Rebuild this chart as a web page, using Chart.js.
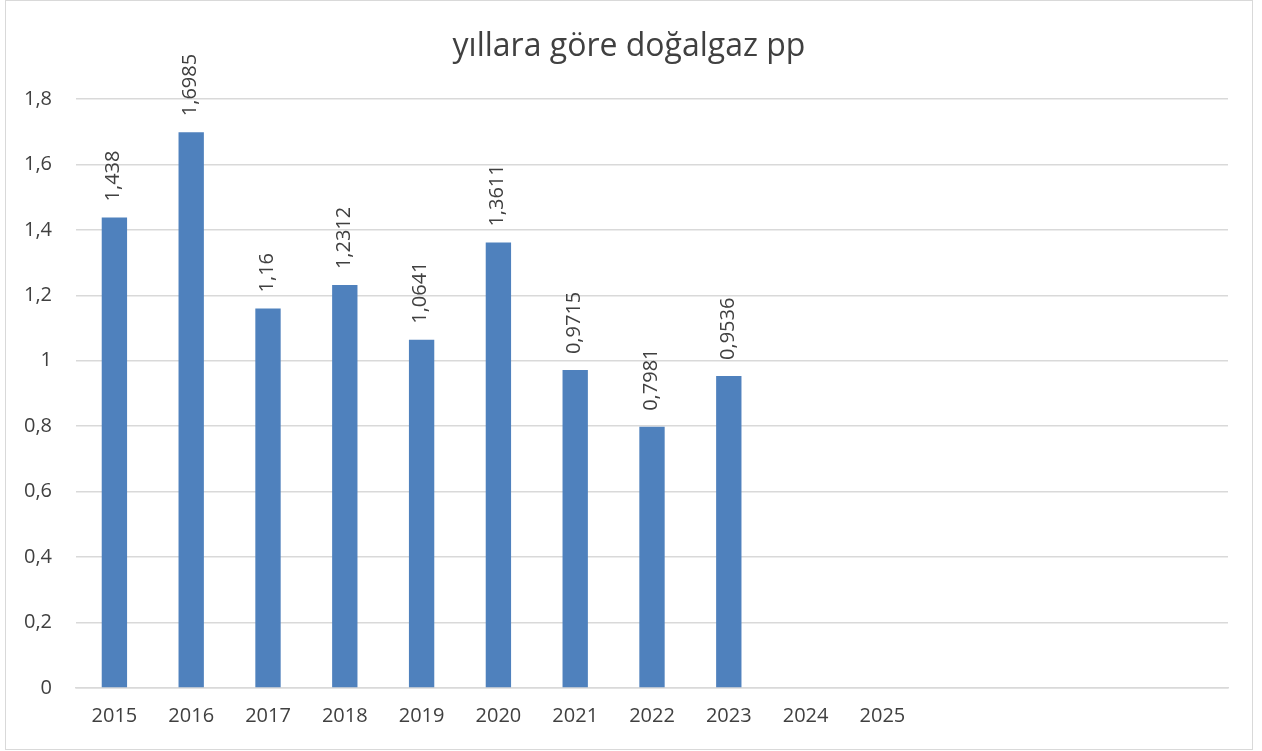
<!DOCTYPE html>
<html>
<head>
<meta charset="utf-8">
<script src="https://cdn.jsdelivr.net/npm/chart.js@4"></script>
<style>
  body { margin: 0; background: #fff; }
  #wrap { position: absolute; left: 5px; top: 0; width: 1248px; height: 750px; border: 1px solid #d9d9d9; box-sizing: border-box; }
</style>
</head>
<body>
<div id="wrap"><canvas id="myChart" width="1246" height="748"></canvas></div>
<script>
  var years = ["2015", "2016", "2017", "2018", "2019", "2020", "2021", "2022", "2023", "2024", "2025", "", "", "", ""];
  var values = [1.438, 1.6985, 1.16, 1.2312, 1.0641, 1.3611, 0.9715, 0.7981, 0.9536, null, null, null, null, null, null];
  var yTicks = [0, 0.2, 0.4, 0.6, 0.8, 1, 1.2, 1.4, 1.6, 1.8];

  var textColor = "#404040";
  var fontName = "'Open Sans', sans-serif";

  function trNum(v) {
    return String(Number(v.toFixed(4))).replace(".", ",");
  }

  // rotated value labels above each bar
  var barLabels = {
    id: "barLabels",
    afterDatasetsDraw: function (chart) {
      var ctx = chart.ctx;
      var meta = chart.getDatasetMeta(0);
      ctx.save();
      ctx.fillStyle = textColor;
      ctx.font = "20px " + fontName;
      ctx.textAlign = "left";
      ctx.textBaseline = "middle";
      meta.data.forEach(function (bar, i) {
        var v = values[i];
        if (v == null) return;
        ctx.save();
        ctx.translate(bar.x - 1, bar.y - 16);
        ctx.rotate(-Math.PI / 2);
        ctx.fillText(trNum(v), 0, 0);
        ctx.restore();
      });
      ctx.restore();
    }
  };

  new Chart(document.getElementById("myChart"), {
    type: "bar",
    data: {
      labels: years,
      datasets: [{
        data: values,
        backgroundColor: "#4f81bd",
        barPercentage: 0.33,
        categoryPercentage: 1
      }]
    },
    options: {
      responsive: false,
      animation: false,
      layout: { padding: 0 },
      plugins: {
        legend: { display: false },
        tooltip: { enabled: false },
        title: {
          display: true,
          text: "yıllara göre doğalgaz pp",
          color: textColor,
          font: { family: fontName, size: 32, weight: "normal" },
          padding: { top: 27, bottom: 32.6 }
        }
      },
      scales: {
        x: {
          grid: { display: false },
          border: { color: "#d9d9d9", width: 1.5 },
          ticks: {
            color: textColor,
            font: { family: fontName, size: 20 },
            padding: 8,
            maxRotation: 0,
            autoSkip: false
          },
          afterFit: function (s) { s.height = 61; }
        },
        y: {
          min: 0,
          max: 1.8,
          afterBuildTicks: function (s) {
            s.ticks = yTicks.map(function (v) { return { value: v }; });
          },
          grid: { color: "#d9d9d9", lineWidth: 1.5, drawTicks: false },
          border: { display: false },
          ticks: {
            color: textColor,
            font: { family: fontName, size: 20 },
            padding: 24,
            callback: function (v) { return trNum(v); }
          },
          afterFit: function (s) { s.width = 70; }
        },
        // empty spacer on the right so the title stays centred on the page
        yRight: {
          position: "right",
          min: 0,
          max: 1.8,
          grid: { display: false },
          border: { display: false },
          ticks: { display: false },
          afterFit: function (s) { s.width = 24; }
        }
      }
    },
    plugins: [barLabels]
  });
</script>
</body>
</html>
